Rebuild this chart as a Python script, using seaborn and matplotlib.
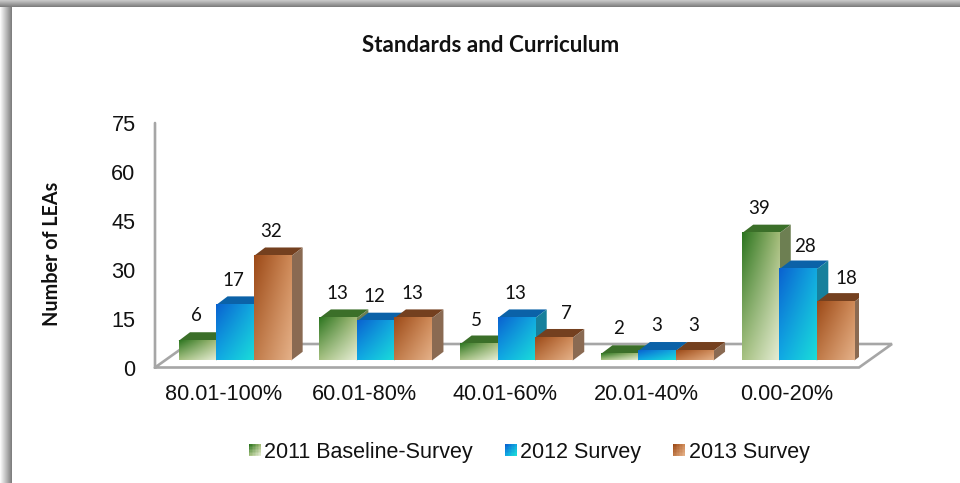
import numpy as np
import pandas as pd
import matplotlib
matplotlib.use("Agg")
import matplotlib.pyplot as plt
import seaborn as sns
from matplotlib.patches import Polygon, Rectangle, Patch
from matplotlib.lines import Line2D
from matplotlib.legend_handler import HandlerBase
from matplotlib.transforms import ScaledTranslation

categories = ["80.01-100%", "60.01-80%", "40.01-60%", "20.01-40%", "0.00-20%"]
survey_2011 = [6, 13, 5, 2, 39]
survey_2012 = [17, 12, 13, 3, 28]
survey_2013 = [32, 13, 7, 3, 18]
series_names = ["2011 Baseline-Survey", "2012 Survey", "2013 Survey"]
y_ticks = [0, 15, 30, 45, 60, 75]
title = "Standards and Curriculum"
y_label = "Number of LEAs"

# corner colours: top-left, top-right, bottom-left, bottom-right
face_cols = [("#2c7520", "#a3bb78", "#a5c080", "#e4ecd4"),
             ("#0a62d0", "#12a8e0", "#10a8e4", "#1adcd8"),
             ("#9c4a18", "#cf8a58", "#c07a48", "#e4b088")]
top_cols = ["#3b6f29", "#0b62a8", "#74401f"]
side_cols = ["#6d7f52", "#17809c", "#8a6a52"]

W, H = 960, 483
sns.set_theme(style="white")
plt.rcParams["font.family"] = ["Liberation Sans", "DejaVu Sans"]
fig = plt.figure(figsize=(W / 100, H / 100), dpi=100)

def rgb(c):
    return np.array(matplotlib.colors.to_rgb(c))

def grad(cols, n=40):
    tl, tr, bl, br = [rgb(c) for c in cols]
    u, v = np.meshgrid(np.linspace(0, 1, n), np.linspace(0, 1, n))
    u, v = u[..., None], v[..., None]
    return (1 - v) * ((1 - u) * tl + u * tr) + v * ((1 - u) * bl + u * br)

# frame drawn as background
bg = fig.add_axes([0, 0, 1, 1], zorder=-1)
frame = np.ones((H, W, 3))
frame[:, :12] = np.linspace(0.98, 0.5, 12)[None, :, None]
frame[:7, :] = np.linspace(0.78, 0.5, 7)[:, None, None]
bg.imshow(frame, aspect="auto", extent=(0, W, H, 0), interpolation="nearest")
bg.axis("off")

# axes: left 155 px, base 360.5 px, 3.26 px per unit, 140.8 px per category
left_px, right_px, base_px, top_px = 155, 859, 360.5, 360.5 - 75 * 3.26
ax = fig.add_axes([left_px / W, 1 - base_px / H, (right_px - left_px) / W, (base_px - top_px) / H], zorder=5)
ax.patch.set_alpha(0)

df = pd.DataFrame({
    "band": categories * 3,
    "survey": sum([[s] * len(categories) for s in series_names], []),
    "count": survey_2011 + survey_2012 + survey_2013,
})
sns.barplot(data=df, x="band", y="count", hue="survey", order=categories, hue_order=series_names,
            palette=[c[0] for c in face_cols], width=0.8, gap=0, legend=False, ax=ax, saturation=1)

x0 = -0.567
xspan = (right_px - left_px) / 140.8
dx = 11.5 / 140.8
dy = 8.7 / 3.26

# hand placed labels in the source: (series, category) -> pixel nudge (right, down)
label_nudge = {(2, 2): (12, 1), (1, 4): (7, 2), (2, 4): (11, 2), (0, 2): (-2, 1)}

for j, cont in enumerate(ax.containers):
    g = grad(face_cols[j])
    for i, bar in enumerate(cont):
        x, w, h = bar.get_x(), bar.get_width(), bar.get_height()
        z = 3 + j
        top = Polygon([(x, h), (x + w, h), (x + w + dx, h + dy), (x + dx, h + dy)],
                      closed=True, fc=top_cols[j], ec="none", zorder=z)
        side = Polygon([(x + w, 0), (x + w + dx, dy), (x + w + dx, h + dy), (x + w, h)],
                       closed=True, fc=side_cols[j], ec="none", zorder=z)
        ax.add_patch(top)
        ax.add_patch(side)
        ax.imshow(g, extent=(x, x + w, 0, h), aspect="auto", interpolation="bilinear", zorder=z + 0.1)
        bar.set_visible(False)
        nx, ny = label_nudge.get((j, i), (-1, 0))
        ax.annotate(str(int(h)), (x + w / 2, h), xytext=(nx * 0.72, 18 - ny * 0.72), textcoords="offset points",
                    ha="center", va="center", fontsize=13.5, family=["Lato", "DejaVu Sans"],
                    color="#111111", zorder=10, annotation_clip=False)

ax.set_xlim(x0, x0 + xspan)
ax.set_ylim(0, 75)
for s in ax.spines.values():
    s.set_visible(False)
ax.grid(False)
ax.set_xlabel("")
ax.set_ylabel("")
tick_pos = [i - 0.078 for i in range(len(categories))]
ax.set_xticks(tick_pos, categories)
ax.set_yticks(y_ticks, [str(t) for t in y_ticks])
ax.tick_params(axis="x", length=0, pad=17, labelsize=15.6, labelcolor="#111111")
ax.tick_params(axis="y", length=0, pad=14, labelsize=15.6, labelcolor="#111111")
shift = ScaledTranslation(0, -7 / 100, fig.dpi_scale_trans)
for t in ax.get_yticklabels():
    t.set_transform(t.get_transform() + shift)

# walls and floor outline, in pixels
def px_line(xs, ys):
    fig.add_artist(Line2D([x / W for x in xs], [1 - y / H for y in ys], color="#a6a6a6", lw=1.9,
                          solid_joinstyle="miter", zorder=1))
px_line([155, 155, 859, 892, 188, 155], [123, 367.5, 367.5, 344, 344, 367.5])

fig.text(491 / W, 1 - 46 / H, title, ha="center", va="center", fontsize=16.1, fontweight="bold",
         family=["Lato", "DejaVu Sans"], color="#111111")
fig.text(52 / W, 1 - 254 / H, y_label, ha="center", va="center", rotation=90, fontsize=14.2,
         fontweight="bold", family=["Lato", "DejaVu Sans"], color="#111111")

class GradHandler(HandlerBase):
    def __init__(self, cols):
        super().__init__()
        self.cols = cols
    def create_artists(self, legend, orig, xd, yd, width, height, fontsize, trans):
        n = 8
        g = grad(self.cols, n)
        s = 12 * 72 / 100
        out = []
        y0 = (height - s) / 2 - yd
        for r in range(n):
            for c in range(n):
                out.append(Rectangle((-xd + c * s / n, y0 + (n - 1 - r) * s / n), s / n + 0.1, s / n + 0.1,
                                     fc=g[r, c], ec="none", transform=trans))
        return out

handles = [Patch(label=n) for n in series_names]
fig.legend(handles=handles, labels=series_names, loc="center", bbox_to_anchor=(529 / W, 1 - 452.5 / H), ncol=3,
           frameon=False, fontsize=15.5, labelcolor="#111111",
           handler_map={h: GradHandler(c) for h, c in zip(handles, face_cols)},
           handlelength=0.55, handleheight=0.7, handletextpad=0.18, columnspacing=1.47,
           borderpad=0, borderaxespad=0)

fig.savefig("out.png", dpi=100)
